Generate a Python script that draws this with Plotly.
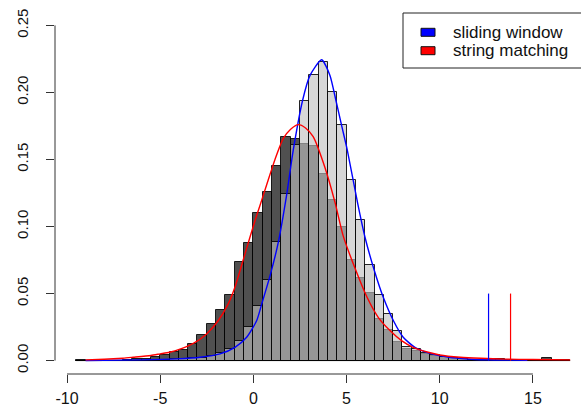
import plotly.graph_objects as go

# ---- data ----
bin_width = 0.5
bin_left = [-9.5 + 0.5 * i for i in range(53)]

string_matching = [
    0.0008, 0, 0, 0, 0, 0.0005, 0.001, 0.0015, 0.0028, 0.0042,
    0.0065, 0.008, 0.0124, 0.019, 0.0276, 0.0375, 0.049, 0.0734, 0.0876,
    0.110, 0.126, 0.1455, 0.167, 0.165, 0.1617, 0.160, 0.1393, 0.120, 0.100,
    0.0751, 0.0617, 0.0502, 0.0311, 0.0229, 0.0142, 0.0085, 0.007, 0.005, 0.0035,
    0.0025, 0.0018, 0.001, 0.0007, 0.0005, 0.0015, 0.0015, 0.0003, 0.0003, 0.0005,
    0.0005, 0.0022, 0.0005, 0.0005,
]
sliding_window = [
    0, 0, 0, 0, 0, 0, 0, 0, 0, 0.0005,
    0.001, 0.0015, 0.002, 0.0018, 0.0032, 0.0055, 0.0087, 0.0144, 0.0249,
    0.041, 0.060, 0.0883, 0.124, 0.161, 0.1935, 0.2127, 0.2226, 0.2007, 0.1759,
    0.1348, 0.105, 0.0714, 0.049, 0.0348, 0.0219, 0.0099, 0.0087, 0.006, 0.0042,
    0.003, 0.002, 0.0012, 0.0008, 0.0005, 0, 0, 0, 0, 0,
    0, 0, 0, 0,
]

red_curve_x = [-9.0, -8.0, -7.0, -6.45, -5.5, -5.0, -4.5, -3.94, -3.22, -2.51, -1.88,
               -1.35, -0.99, -0.45, 0.09, 0.35, 0.71, 1.16, 1.6, 2.0, 2.41, 2.8,
               3.21, 3.84, 4.38, 4.82, 5.45, 6.1, 6.7, 7.33, 7.95, 8.57, 9.38, 10.0,
               11.1, 12.2, 13.5, 15.0, 17.0]
red_curve_y = [0.0005, 0.001, 0.0018, 0.0025, 0.0038, 0.005, 0.0062, 0.0085, 0.0128,
               0.0199, 0.0299, 0.0423, 0.0547, 0.0796, 0.1045, 0.1155, 0.131, 0.150,
               0.1655, 0.1725, 0.176, 0.1735, 0.167, 0.144, 0.118, 0.093, 0.069,
               0.0472, 0.0323, 0.0224, 0.0149, 0.0099, 0.0062, 0.0042, 0.0025,
               0.0017, 0.0011, 0.0008, 0.0005]

blue_curve_x = [-9.0, -6.0, -4.11, -2.86, -1.79, -0.99, -0.36, 0.18, 0.45, 0.89, 1.34,
                1.79, 2.14, 2.64, 3.04, 3.66, 4.11, 4.43, 4.74, 5.04, 5.6, 5.99,
                6.49, 6.97, 7.51, 8.04, 8.67, 9.57, 10.5, 11.5, 12.5, 14.7]
blue_curve_y = [0.0001, 0.0005, 0.0013, 0.0025, 0.005, 0.0099, 0.0174, 0.0299, 0.0423,
                0.063, 0.0883, 0.124, 0.157, 0.194, 0.2127, 0.2244, 0.2127, 0.194,
                0.175, 0.157, 0.117, 0.092, 0.0672, 0.0472, 0.0299, 0.0174, 0.0099,
                0.005, 0.0025, 0.0012, 0.0006, 0.0002]

marker_x = {"sliding window": 12.62, "string matching": 13.80}
marker_height = 0.05

series_names = ["sliding window", "string matching"]
series_colors = ["#0000ff", "#ff0000"]

x_ticks = [-10, -5, 0, 5, 10, 15]
y_ticks = [0.0, 0.05, 0.10, 0.15, 0.20, 0.25]

# ---- figure ----
W, H = 581, 409
ML, MR, MT, MB = 55, 0, 12, 35
PW, PH = W - ML - MR, H - MT - MB


def px_x(p):
    return (p - ML) / PW


def px_y(p):
    return (H - MB - p) / PH


centers = [b + bin_width / 2 for b in bin_left]
fig = go.Figure()
fig.add_trace(go.Bar(x=centers, y=string_matching, width=bin_width,
                     marker=dict(color="rgba(36,36,36,0.8)",
                                 line=dict(color="rgba(0,0,0,0.85)", width=1)),
                     showlegend=False, name="string matching"))
fig.add_trace(go.Bar(x=centers, y=sliding_window, width=bin_width,
                     marker=dict(color="rgba(191,191,191,0.63)",
                                 line=dict(color="rgba(0,0,0,0.85)", width=1)),
                     showlegend=False, name="sliding window"))
# baseline of empty bins
fig.add_trace(go.Scatter(x=[bin_left[0], bin_left[-1] + bin_width], y=[0, 0], mode="lines",
                         line=dict(color="rgba(0,0,0,0.8)", width=1), showlegend=False,
                         hoverinfo="skip"))
fig.add_trace(go.Scatter(x=blue_curve_x, y=blue_curve_y, mode="lines",
                         line=dict(color="#0000ff", width=1.4, shape="spline", smoothing=0.6),
                         showlegend=False))
fig.add_trace(go.Scatter(x=red_curve_x, y=red_curve_y, mode="lines",
                         line=dict(color="#ff0000", width=1.4, shape="spline", smoothing=0.6),
                         showlegend=False))
for name, col in zip(series_names, series_colors):
    fig.add_trace(go.Scatter(x=[marker_x[name], marker_x[name]], y=[0, marker_height],
                             mode="lines", line=dict(color=col, width=1.2),
                             showlegend=False))

# R-style axis lines spanning the tick range
fig.add_shape(type="line", xref="x", yref="paper", x0=x_ticks[0], x1=x_ticks[-1],
              y0=0, y1=0, line=dict(color="#333", width=1))
fig.add_shape(type="line", xref="paper", yref="y", x0=0, x1=0,
              y0=y_ticks[0], y1=y_ticks[-1], line=dict(color="#333", width=1))

# legend box drawn R-style
fig.add_shape(type="rect", xref="paper", yref="paper",
              x0=px_x(403), x1=px_x(600), y0=px_y(68), y1=px_y(13),
              line=dict(color="#222", width=1), fillcolor="white", layer="above")
legend_rows = [32.3, 50.7]
for name, col, yc in zip(series_names, series_colors, legend_rows):
    fig.add_shape(type="rect", xref="paper", yref="paper",
                  x0=px_x(421), x1=px_x(435), y0=px_y(yc + 4), y1=px_y(yc - 4),
                  line=dict(color="#111", width=1), fillcolor=col, layer="above")
    fig.add_annotation(xref="paper", yref="paper", x=px_x(451), y=px_y(yc),
                       text=name, showarrow=False, xanchor="left", yanchor="middle",
                       font=dict(family="Liberation Sans", size=17, color="#111"))

fig.update_layout(
    width=W, height=H, margin=dict(l=ML, r=MR, t=MT, b=MB),
    barmode="overlay", bargap=0, plot_bgcolor="white", paper_bgcolor="white",
    xaxis=dict(range=[-10.644, 17.58], tickvals=x_ticks, ticktext=[str(v) for v in x_ticks],
               ticks="outside", ticklen=8, tickcolor="#333", showline=False,
               showgrid=False, zeroline=False, ticklabelstandoff=2, automargin=False,
               tickfont=dict(family="Liberation Sans", size=16, color="#111")),
    yaxis=dict(range=[-0.01, 0.26], tickvals=y_ticks, ticktext=[f"{v:.2f}" for v in y_ticks],
               ticks="outside", ticklen=8, tickcolor="#333", showline=False,
               showgrid=False, zeroline=False, tickangle=-90, ticklabelstandoff=12,
               automargin=False,
               tickfont=dict(family="Liberation Sans", size=15, color="#111")),
    showlegend=False,
)

fig.write_html("out.html", config={"displayModeBar": False},
               post_script="document.body.style.margin='0';document.body.style.overflow='hidden';")
